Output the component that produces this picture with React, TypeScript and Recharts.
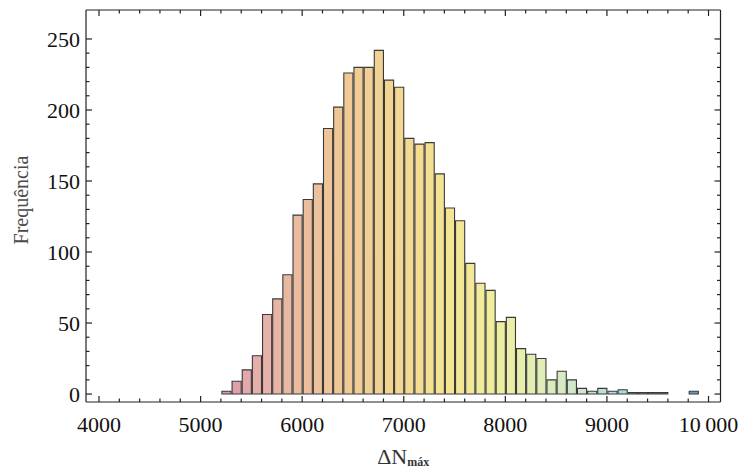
import React from "react";
import {
  ComposedChart,
  Bar,
  Cell,
  XAxis,
  YAxis,
  ReferenceLine,
  Label,
} from "recharts";

// bin start (ΔN) and count per bin, bin width 100
const BIN_START = [
  5200, 5300, 5400, 5500, 5600, 5700, 5800, 5900, 6000, 6100, 6200, 6300,
  6400, 6500, 6600, 6700, 6800, 6900, 7000, 7100, 7200, 7300, 7400, 7500,
  7600, 7700, 7800, 7900, 8000, 8100, 8200, 8300, 8400, 8500, 8600, 8700,
  8800, 8900, 9000, 9100, 9200, 9300, 9400, 9500, 9600, 9700, 9800,
];
const COUNTS = [
  2, 9, 17, 27, 56, 67, 84, 126, 137, 148, 187, 202,
  226, 230, 230, 242, 221, 216, 180, 176, 177, 155, 131, 122,
  92, 78, 73, 51, 54, 32, 28, 25, 10, 16, 10, 4,
  2, 4, 2, 3, 1, 1, 1, 1, 0, 0, 2,
];
const BIN_WIDTH = 100;

const X_MAJOR = [4000, 5000, 6000, 7000, 8000, 9000, 10000];
const X_LABELS = ["4000", "5000", "6000", "7000", "8000", "9000", "10\u2009000"];
const Y_MAJOR = [0, 50, 100, 150, 200, 250];
const Y_LABELS = ["0", "50", "100", "150", "200", "250"];

const X_MIN = 3872;
const X_MAX = 10118;
const Y_MIN = -5.6;
const Y_MAX = 270.4;

// layout
const W = 742;
const H = 469;
const M = { top: 10, right: 21.5, bottom: 0, left: 0 };
const Y_AXIS_W = 86;
const X_AXIS_H = 67;
const PLOT_W = W - M.left - M.right - Y_AXIS_W;
const PLOT_H = H - M.top - M.bottom - X_AXIS_H;

const FONT = "'Liberation Serif', 'Times New Roman', serif";
const INK = "#222";

// colour ramp along ΔN (pink -> orange -> yellow -> green -> blue)
const STOPS: [number, number[]][] = [
  [5200, [214, 150, 172]],
  [5500, [228, 172, 172]],
  [5900, [234, 186, 160]],
  [6400, [240, 200, 150]],
  [6900, [243, 214, 146]],
  [7400, [244, 228, 146]],
  [7900, [240, 238, 158]],
  [8300, [226, 238, 180]],
  [8700, [206, 232, 206]],
  [9100, [178, 218, 226]],
  [9500, [146, 196, 224]],
  [9850, [96, 156, 212]],
];

function rampColor(v: number) {
  if (v <= STOPS[0][0]) return `rgb(${STOPS[0][1].join(",")})`;
  for (let i = 1; i < STOPS.length; i++) {
    const [x1, c1] = STOPS[i];
    const [x0, c0] = STOPS[i - 1];
    if (v <= x1) {
      const t = (v - x0) / (x1 - x0);
      const c = c0.map((a, k) => Math.round(a + (c1[k] - a) * t));
      return `rgb(${c.join(",")})`;
    }
  }
  return `rgb(${STOPS[STOPS.length - 1][1].join(",")})`;
}

const data = BIN_START.map((start, i) => ({
  mid: start + BIN_WIDTH / 2,
  count: COUNTS[i],
}));

const xTicks: number[] = [];
for (let v = X_MAJOR[0]; v <= X_MAJOR[X_MAJOR.length - 1]; v += 200) xTicks.push(v);
const yTicks: number[] = [];
for (let v = Y_MAJOR[0]; v <= Y_MAJOR[Y_MAJOR.length - 1]; v += 10) yTicks.push(v);

function XTick(props: any) {
  const { x, y, payload } = props;
  const idx = X_MAJOR.indexOf(payload.value);
  const len = idx >= 0 ? 6 : 3.5;
  return (
    <g>
      <line x1={x} x2={x} y1={y} y2={y - len} stroke={INK} strokeWidth={1.2} />
      <line x1={x} x2={x} y1={y - PLOT_H} y2={y - PLOT_H + len} stroke={INK} strokeWidth={1.2} />
      {idx >= 0 && (
        <text x={x} y={y + 30} textAnchor="middle" fontFamily={FONT} fontSize={22} fill="#111">
          {X_LABELS[idx]}
        </text>
      )}
    </g>
  );
}

function YTick(props: any) {
  const { x, y, payload } = props;
  const idx = Y_MAJOR.indexOf(payload.value);
  const len = idx >= 0 ? 6 : 3.5;
  return (
    <g>
      <line x1={x} x2={x + len} y1={y} y2={y} stroke={INK} strokeWidth={1.2} />
      <line x1={x + PLOT_W} x2={x + PLOT_W - len} y1={y} y2={y} stroke={INK} strokeWidth={1.2} />
      {idx >= 0 && (
        <text x={x - 6} y={y} dy="0.35em" textAnchor="end" fontFamily={FONT} fontSize={22} fill="#111">
          {Y_LABELS[idx]}
        </text>
      )}
    </g>
  );
}

function XTitle(props: any) {
  const { viewBox } = props;
  const cx = viewBox.x + viewBox.width / 2;
  return (
    <text x={cx} y={viewBox.y + 62} textAnchor="middle" fontFamily={FONT} fill="#333">
      <tspan fontSize={22}>ΔN</tspan>
      <tspan fontSize={12} fontWeight="bold" dy={2}>máx</tspan>
    </text>
  );
}

function YTitle(props: any) {
  const { viewBox } = props;
  const cy = viewBox.y + viewBox.height / 2 - 6;
  const cx = 21;
  return (
    <text
      x={cx}
      y={cy}
      transform={`rotate(-90, ${cx}, ${cy})`}
      textAnchor="middle"
      dominantBaseline="central"
      fontFamily={FONT}
      fontSize={20}
      fill="#4a4a4a"
    >
      Frequência
    </text>
  );
}

export default function App() {
  return (
    <div style={{ position: "absolute", left: 0, top: 0, width: W, height: H, background: "#fff" }}>
      <ComposedChart width={W} height={H} data={data} margin={M}>
        <XAxis
          dataKey="mid"
          type="number"
          domain={[X_MIN, X_MAX]}
          allowDataOverflow
          ticks={xTicks}
          interval={0}
          tick={<XTick />}
          tickSize={0}
          tickMargin={0}
          tickLine={false}
          height={X_AXIS_H}
          axisLine={{ stroke: INK, strokeWidth: 1.2 }}
        >
          <Label content={<XTitle />} />
        </XAxis>
        <YAxis
          type="number"
          domain={[Y_MIN, Y_MAX]}
          allowDataOverflow
          ticks={yTicks}
          interval={0}
          tick={<YTick />}
          tickSize={0}
          tickMargin={0}
          tickLine={false}
          width={Y_AXIS_W}
          axisLine={{ stroke: INK, strokeWidth: 1.2 }}
        >
          <Label content={<YTitle />} />
        </YAxis>
        <Bar
          dataKey="count"
          barSize={PLOT_W * BIN_WIDTH / (X_MAX - X_MIN)}
          stroke="#3a3a3a"
          strokeWidth={1.1}
          isAnimationActive={false}
        >
          {data.map((d, i) => (
            <Cell key={`c-${i}`} fill={rampColor(d.mid)} />
          ))}
        </Bar>
        <ReferenceLine y={Y_MAX} stroke={INK} strokeWidth={1.2} />
        <ReferenceLine x={X_MAX} stroke={INK} strokeWidth={1.2} />
      </ComposedChart>
    </div>
  );
}
